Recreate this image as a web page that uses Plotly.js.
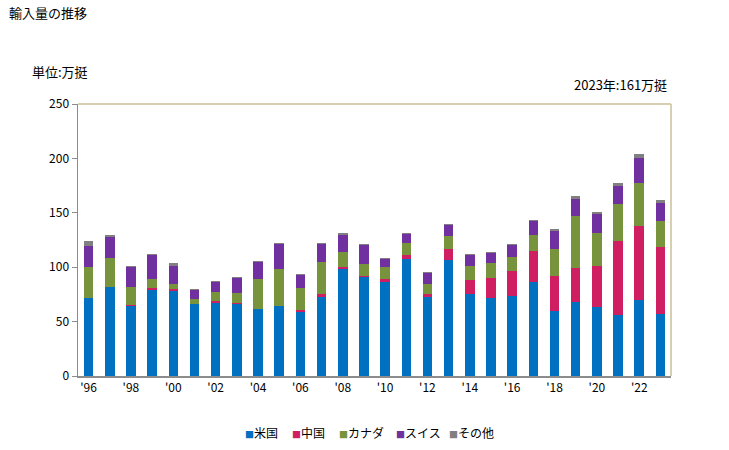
<!DOCTYPE html>
<html>
<head>
<meta charset="utf-8">
<script src="https://cdn.plot.ly/plotly-3.0.1.min.js"></script>
<style>html,body{margin:0;padding:0;background:#fff;}#chart{width:729px;height:450px;}</style>
</head>
<body>
<div id="chart"></div>
<script>
const years = [1996,1997,1998,1999,2000,2001,2002,2003,2004,2005,2006,2007,2008,2009,2010,2011,2012,2013,2014,2015,2016,2017,2018,2019,2020,2021,2022,2023];
const tickYears = [1996,1998,2000,2002,2004,2006,2008,2010,2012,2014,2016,2018,2020,2022];
const tickLabels = ["'96","'98","'00","'02","'04","'06","'08","'10","'12","'14","'16","'18","'20","'22"];
const seriesNames = ["米国","中国","カナダ","スイス","その他"];
const usa =    [72,81.8,64.6,79.3,78.1,66.2,67.1,66.2,61.6,64.3,59.1,72.6,98.3,91,86.7,107.5,72.6,106.9,75.7,72,73.8,86.7,59.7,68.3,63.4,56,70.2,57.3];
const china =  [0,0,0.9,1.6,1.6,0,1.8,0.9,0,0,1.9,2.8,1.9,0.9,2.5,3.7,3.1,9.8,12.8,18.4,22.7,28.2,32.2,31.2,38,68,67.7,61.3];
const canada = [28.2,26.7,16.3,8.3,5.2,4.6,8.3,9.2,27.6,34,19.9,29.4,13.8,11.1,11,11,8.9,12,12.6,13.5,12.9,14.7,24.8,47.5,30,34,39.5,23.9];
const swiss =  [19.3,19.3,18.4,22,16.2,8.2,9.2,13.8,15.6,23,11.9,16.5,15.6,17.4,7.3,8.3,10.1,10.1,10.1,9.1,11,12.9,16.6,15.7,17.5,16.6,23,16.5];
const other =  [4.5,1.8,0.9,0.9,2.8,0.9,0.9,0.9,0.9,0.9,0.9,0.9,1.8,0.9,1,0.9,0.9,0.9,0.9,1,0.9,0.9,1.8,2.7,1.8,2.8,3.6,2.8];
const colors = ["#0070c0","#d01e62","#77933c","#7030a0","#808080"];
const values = [usa, china, canada, swiss, other];

const font = "'Noto Sans CJK JP', 'Noto Sans', sans-serif";
const traces = values.map((v, i) => ({
  type: "bar", x: years, y: v, name: seriesNames[i],
  marker: {color: colors[i], line: {width: 0}}
}));

// custom legend entries (square + label), placed below the plot
const legendX = [0.2782, 0.3575, 0.4368, 0.5329, 0.6223];
const legendAnn = seriesNames.map((n, i) => ({
  text: `<span style="color:${colors[i]};font-size:9px">■</span>${n}`,
  xref: "paper", yref: "paper", x: legendX[i], y: -0.206, xanchor: "left", yanchor: "middle",
  showarrow: false, font: {family: font, size: 12, color: "#000"}
}));

const layout = {
  width: 729, height: 450,
  margin: {l: 78, r: 58, t: 104, b: 74, autoexpand: false},
  paper_bgcolor: "#fff", plot_bgcolor: "#fff",
  barmode: "stack", bargap: 0.55,
  font: {family: font, size: 12, color: "#000"},
  xaxis: {
    range: [1995.5, 2023.5], tickmode: "array", tickvals: tickYears, ticktext: tickLabels,
    showgrid: false, zeroline: false, showline: true, linecolor: "#8c8c8c", linewidth: 1.5,
    ticks: "", tickfont: {family: font, size: 12, color: "#000"}
  },
  yaxis: {
    range: [0, 250], tickvals: [0,50,100,150,200,250], showgrid: false, zeroline: false,
    showline: true, linecolor: "#8c8c8c", linewidth: 1.5, ticks: "outside", ticklen: 5,
    tickcolor: "#8c8c8c", tickfont: {family: font, size: 12, color: "#000"}
  },
  showlegend: false,
  shapes: [
    {type: "line", xref: "paper", yref: "paper", x0: 0, x1: 1, y0: 1, y1: 1, line: {color: "#c8bf98", width: 1.5}},
    {type: "line", xref: "paper", yref: "paper", x0: 1, x1: 1, y0: 0, y1: 1, line: {color: "#c8bf98", width: 1.5}}
  ],
  annotations: [
    {text: "輸入量の推移", xref: "paper", yref: "paper", x: -0.12, y: 1.338, xanchor: "left", yanchor: "middle", showarrow: false, font: {family: font, size: 13, color: "#000"}},
    {text: "単位:万挺", xref: "paper", yref: "paper", x: -0.081, y: 1.118, xanchor: "left", yanchor: "middle", showarrow: false, font: {family: font, size: 13, color: "#000"}},
    {text: "2023年:161万挺", xref: "paper", yref: "paper", x: 0.997, y: 1.07, xanchor: "right", yanchor: "middle", showarrow: false, font: {family: font, size: 13, color: "#000"}}
  ].concat(legendAnn)
};

Plotly.newPlot("chart", traces, layout, {displayModeBar: false, staticPlot: true});
</script>
</body>
</html>
